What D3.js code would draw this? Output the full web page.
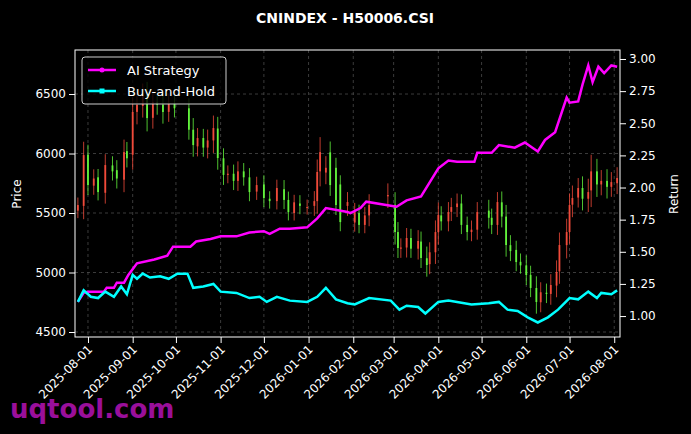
<!DOCTYPE html>
<html><head><meta charset="utf-8">
<script src="https://cdn.jsdelivr.net/npm/d3@7"></script>
<style>body{margin:0;background:#000}svg{display:block}text{font-family:"DejaVu Sans",sans-serif}</style>
</head><body><svg id="c" width="691" height="434"></svg>
<script>
const candleDates=["2025-07-25","2025-07-29","2025-08-01","2025-08-05","2025-08-08","2025-08-13","2025-08-18","2025-08-21","2025-08-26","2025-08-28","2025-09-01","2025-09-04","2025-09-08","2025-09-11","2025-09-15","2025-09-18","2025-09-22","2025-09-26","2025-09-30","2025-10-10","2025-10-13","2025-10-16","2025-10-20","2025-10-23","2025-10-27","2025-10-30","2025-11-03","2025-11-06","2025-11-10","2025-11-13","2025-11-17","2025-11-21","2025-11-26","2025-12-01","2025-12-05","2025-12-10","2025-12-15","2025-12-18","2025-12-22","2025-12-26","2025-12-31","2026-01-05","2026-01-07","2026-01-09","2026-01-13","2026-01-16","2026-01-20","2026-01-23","2026-01-28","2026-02-02","2026-02-05","2026-02-09","2026-02-12","2026-02-25","2026-03-02","2026-03-04","2026-03-06","2026-03-10","2026-03-13","2026-03-18","2026-03-20","2026-03-24","2026-03-26","2026-03-30","2026-04-01","2026-04-03","2026-04-08","2026-04-10","2026-04-14","2026-04-17","2026-04-21","2026-04-24","2026-04-28","2026-05-06","2026-05-08","2026-05-12","2026-05-15","2026-05-18","2026-05-21","2026-05-25","2026-05-28","2026-06-01","2026-06-04","2026-06-08","2026-06-11","2026-06-15","2026-06-18","2026-06-22","2026-06-24","2026-06-29","2026-07-01","2026-07-03","2026-07-07","2026-07-10","2026-07-14","2026-07-16","2026-07-20","2026-07-23","2026-07-27","2026-07-30","2026-08-03"];
const candleOpen=[5520,5560,5990,5730,5800,5670,5900,5860,5780,6020,5990,6350,6400,6490,6300,6430,6410,6350,6420,6380,6200,6060,6130,6050,6110,6210,5960,5820,5830,5770,5850,5800,5680,5740,5620,5600,5700,5610,5500,5580,5550,5560,5600,5850,5840,6010,5880,5740,5560,5420,5500,5400,5480,5640,5570,5340,5200,5210,5290,5200,5260,5120,5070,5170,5340,5480,5430,5510,5550,5580,5400,5340,5360,5520,5460,5400,5590,5470,5230,5190,5090,5060,4980,4870,4750,4830,4820,4890,5010,5230,5340,5570,5630,5710,5620,5690,5850,5740,5770,5720,5750];
const candleClose=[5567,5987,5735,5790,5676,5903,5850,5790,6012,5960,6349,6408,6490,6298,6432,6410,6349,6420,6380,6200,6071,6130,6050,6110,6214,5962,5820,5830,5770,5850,5800,5676,5735,5626,5600,5710,5610,5508,5590,5560,5550,5600,5845,6012,5880,5735,5567,5424,5592,5508,5400,5480,5567,5651,5340,5206,5210,5290,5200,5265,5122,5063,5170,5340,5483,5430,5508,5550,5580,5400,5340,5360,5508,5460,5400,5592,5470,5231,5180,5088,5060,4979,4870,4752,4834,4820,4895,5004,5231,5340,5567,5626,5710,5620,5676,5850,5740,5770,5720,5760,5794];
const candleWick=[90,160,120,110,100,130,110,120,150,110,180,150,140,160,130,120,140,120,110,120,140,120,110,130,150,140,120,100,110,120,100,110,100,110,90,100,110,100,90,100,90,120,150,180,140,130,120,110,120,110,100,100,130,140,150,120,110,120,110,130,120,140,120,140,150,110,120,110,120,110,100,110,120,130,110,120,130,140,120,110,100,120,110,140,120,110,130,140,150,160,140,150,120,140,160,200,150,130,140,120,130];
const aiDates=["2025-07-25","2025-07-29","2025-08-01","2025-08-12","2025-08-14","2025-08-19","2025-08-21","2025-08-26","2025-08-29","2025-09-04","2025-09-16","2025-09-25","2025-09-29","2025-10-11","2025-10-15","2025-10-25","2025-11-01","2025-11-12","2025-11-21","2025-12-01","2025-12-05","2025-12-12","2025-12-19","2025-12-31","2026-01-07","2026-01-13","2026-01-28","2026-01-30","2026-02-06","2026-02-10","2026-03-03","2026-03-10","2026-03-20","2026-03-26","2026-04-01","2026-04-08","2026-04-14","2026-04-26","2026-04-28","2026-05-08","2026-05-13","2026-05-24","2026-05-31","2026-06-09","2026-06-14","2026-06-21","2026-06-29","2026-07-01","2026-07-07","2026-07-10","2026-07-14","2026-07-17","2026-07-21","2026-07-25","2026-07-30","2026-08-03"];
const aiValues=[1.11,1.18,1.19,1.19,1.22,1.22,1.26,1.26,1.32,1.41,1.44,1.47,1.54,1.54,1.58,1.60,1.62,1.62,1.65,1.66,1.64,1.68,1.68,1.69,1.76,1.84,1.81,1.80,1.84,1.89,1.85,1.90,1.93,2.04,2.15,2.21,2.20,2.20,2.27,2.27,2.33,2.31,2.35,2.28,2.37,2.43,2.70,2.66,2.67,2.80,2.95,2.82,2.94,2.89,2.95,2.94];
const bhDates=["2025-07-25","2025-07-29","2025-08-03","2025-08-08","2025-08-13","2025-08-19","2025-08-24","2025-08-28","2025-09-01","2025-09-04","2025-09-08","2025-09-13","2025-09-20","2025-09-26","2025-10-02","2025-10-09","2025-10-13","2025-10-20","2025-10-27","2025-11-01","2025-11-12","2025-11-21","2025-11-28","2025-12-03","2025-12-10","2025-12-19","2025-12-31","2026-01-07","2026-01-13","2026-01-20","2026-01-28","2026-02-02","2026-02-12","2026-02-27","2026-03-05","2026-03-10","2026-03-18","2026-03-23","2026-04-01","2026-04-08","2026-04-14","2026-04-24","2026-05-06","2026-05-13","2026-05-19","2026-05-26","2026-06-02","2026-06-09","2026-06-16","2026-06-23","2026-07-01","2026-07-07","2026-07-14","2026-07-20","2026-07-23","2026-07-30","2026-08-03"];
const bhValues=[1.11,1.20,1.15,1.14,1.19,1.15,1.23,1.17,1.32,1.29,1.33,1.30,1.31,1.29,1.33,1.33,1.22,1.23,1.25,1.19,1.18,1.14,1.15,1.11,1.15,1.12,1.11,1.15,1.22,1.13,1.10,1.09,1.14,1.12,1.05,1.08,1.07,1.02,1.11,1.12,1.11,1.09,1.10,1.11,1.05,1.04,0.99,0.95,0.99,1.05,1.14,1.13,1.19,1.14,1.18,1.17,1.20];
const xTicks=["2025-08-01","2025-09-01","2025-10-01","2025-11-01","2025-12-01","2026-01-01","2026-02-01","2026-03-01","2026-04-01","2026-05-01","2026-06-01","2026-07-01","2026-08-01"];
const priceTicks=[4500,5000,5500,6000,6500];
const retTicks=[1.00,1.25,1.50,1.75,2.00,2.25,2.50,2.75,3.00];

const P=d3.timeParse("%Y-%m-%d");
const svg=d3.select("#c");
const L=75,R=620,T=50,B=337;
const x=d3.scaleTime().domain([P("2025-07-23"),P("2026-08-05")]).range([L,R]);
const yP=d3.scaleLinear().domain([4458,6870]).range([B,T]);
const yR=d3.scaleLinear().domain([0.837,3.07]).range([B,T]);
svg.append("rect").attr("width",691).attr("height",434).attr("fill","#000");
const g=svg.append("g");
xTicks.forEach(t=>g.append("line").attr("x1",x(P(t))).attr("x2",x(P(t))).attr("y1",T).attr("y2",B));
priceTicks.forEach(t=>g.append("line").attr("x1",L).attr("x2",R).attr("y1",yP(t)).attr("y2",yP(t)));
g.selectAll("line").attr("stroke","#555").attr("stroke-width",0.7).attr("stroke-dasharray","3,3");
const cd=candleDates.map((d,i)=>({d:P(d),o:candleOpen[i],c:candleClose[i],w:candleWick[i]}));
const cg=svg.append("g");
cd.forEach(k=>{
  const col=k.c>=k.o?"#f04a3a":"#62f23c";
  const hi=Math.max(k.o,k.c)+k.w*0.7, lo=Math.min(k.o,k.c)-k.w*0.7;
  const cx=x(k.d);
  cg.append("line").attr("x1",cx).attr("x2",cx).attr("y1",yP(hi)).attr("y2",yP(lo)).attr("stroke",col).attr("stroke-width",0.8);
  cg.append("rect").attr("x",cx-0.9).attr("width",1.8).attr("y",yP(Math.max(k.o,k.c))).attr("height",Math.max(1,Math.abs(yP(k.o)-yP(k.c)))).attr("fill",col);
});
const line=d3.line().x(d=>x(d[0])).y(d=>yR(d[1]));
svg.append("path").datum(aiDates.map((d,i)=>[P(d),aiValues[i]])).attr("d",line).attr("fill","none").attr("stroke","#ff00ff").attr("stroke-width",2.5);
svg.append("path").datum(bhDates.map((d,i)=>[P(d),bhValues[i]])).attr("d",line).attr("fill","none").attr("stroke","#00ffff").attr("stroke-width",2.5);
svg.append("rect").attr("x",L).attr("y",T).attr("width",R-L).attr("height",B-T).attr("fill","none").attr("stroke","#fff").attr("stroke-width",1);
const ax=svg.append("g").attr("transform",`translate(0,${B})`).call(d3.axisBottom(x).tickValues(xTicks.map(P)).tickFormat(d3.timeFormat("%Y-%m-%d")).tickSizeOuter(0));
ax.selectAll("text").attr("transform","rotate(-45)").attr("text-anchor","end").attr("dx","-0.5em").attr("dy","0.3em");
const ay=svg.append("g").attr("transform",`translate(${L},0)`).call(d3.axisLeft(yP).tickValues(priceTicks).tickFormat(d3.format("d")).tickSizeOuter(0));
const ar=svg.append("g").attr("transform",`translate(${R},0)`).call(d3.axisRight(yR).tickValues(retTicks).tickFormat(d3.format(".2f")).tickSizeOuter(0));
[ax,ay,ar].forEach(a=>{a.select(".domain").remove();a.selectAll("line").attr("stroke","#fff");a.selectAll("text").attr("fill","#fff").style("font-size","12px").style("font-family","DejaVu Sans");});
svg.append("text").attr("x",345).attr("y",23).attr("text-anchor","middle").attr("fill","#fff").style("font-size","14px").style("font-weight","bold").text("CNINDEX - H50006.CSI");
svg.append("text").attr("transform","translate(21,194) rotate(-90)").attr("text-anchor","middle").attr("fill","#fff").style("font-size","12px").text("Price");
svg.append("text").attr("transform","translate(678,194) rotate(-90)").attr("text-anchor","middle").attr("fill","#fff").style("font-size","12px").text("Return");
const lg=svg.append("g");
lg.append("rect").attr("x",82).attr("y",57).attr("width",144).attr("height",47).attr("rx",3).attr("fill","#000").attr("fill-opacity",0.8).attr("stroke","#ccc");
[["AI Strategy","#ff00ff","c"],["Buy-and-Hold","#00ffff","s"]].forEach((e,i)=>{
  const yy=70+i*21;
  lg.append("line").attr("x1",88).attr("x2",116).attr("y1",yy).attr("y2",yy).attr("stroke",e[1]).attr("stroke-width",2.5);
  if(e[2]=="c")lg.append("circle").attr("cx",102).attr("cy",yy).attr("r",2.5).attr("fill",e[1]);
  else lg.append("rect").attr("x",99.5).attr("y",yy-2.5).attr("width",5).attr("height",5).attr("fill",e[1]);
  lg.append("text").attr("x",127).attr("y",yy+4.5).attr("fill","#fff").style("font-size","13px").text(e[0]);
});
svg.append("text").attr("x",10).attr("y",418).attr("fill","#9a0f9a").style("font-size","26px").style("font-weight","bold").text("uqtool.com");
</script></body></html>
